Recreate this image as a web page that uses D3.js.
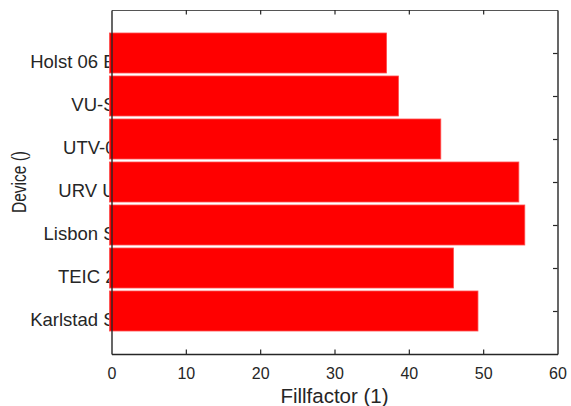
<!DOCTYPE html>
<html>
<head>
<meta charset="utf-8">
<script src="https://cdn.jsdelivr.net/npm/d3@7"></script>
<style>
  html, body { margin: 0; padding: 0; background: #fff; }
  svg { display: block; font-family: "Liberation Sans", Arial, sans-serif; }
</style>
</head>
<body>
<svg id="chart" width="571" height="406"></svg>
<script>
// Device names (bottom to top) and their fill factors
const devices = ["Karlstad S", "TEIC 2", "Lisbon S", "URV U", "UTV-0", "VU-S", "Holst 06 E"];
const fillfactor = [49.3, 46.0, 55.6, 54.8, 44.3, 38.6, 37.0];
const xTicks = [0, 10, 20, 30, 40, 50, 60];
const yTicks = [1, 2, 3, 4, 5, 6, 7];

const svg = d3.select("#chart");
const W = 571, H = 406;
const m = { left: 111.5, right: 13.5, top: 10, bottom: 52 };
const ink = "#262626";

const x = d3.scaleLinear().domain([0, 60]).range([m.left, W - m.right]);
const y = d3.scaleLinear().domain([0, 8]).range([H - m.bottom, m.top]);
const barH = (y(0) - y(1)) * 0.93;

// category labels sit behind the bars
svg.append("g").selectAll("text")
  .data(devices)
  .join("text")
  .attr("x", x(0) + 4)
  .attr("y", (d, i) => y(yTicks[i]) + 15)
  .attr("text-anchor", "end")
  .attr("font-size", 18.5)
  .attr("fill", ink)
  .text(d => d);

// bars
svg.append("g").selectAll("rect")
  .data(fillfactor)
  .join("rect")
  .attr("x", x(0) - 2)
  .attr("y", (d, i) => y(yTicks[i]) - barH / 2)
  .attr("width", d => x(d) - x(0) + 2)
  .attr("height", barH)
  .attr("fill", "#ff0000")
  .attr("stroke", "#ff4d4d")
  .attr("stroke-width", 0.8);

// axes: ticks point inward on all four sides
const tk = 4.5;
const axBottom = svg.append("g").attr("transform", `translate(0,${y(0)})`)
  .call(d3.axisBottom(x).tickValues(xTicks).tickSizeInner(-tk).tickSizeOuter(0).tickPadding(14));
const axTop = svg.append("g").attr("transform", `translate(0,${y(8)})`)
  .call(d3.axisTop(x).tickValues(xTicks).tickSizeInner(-tk).tickSizeOuter(0).tickFormat(""));
const axLeft = svg.append("g").attr("transform", `translate(${x(0)},0)`)
  .call(d3.axisLeft(y).tickValues(yTicks).tickSizeInner(0).tickSizeOuter(0).tickFormat(""));
const axRight = svg.append("g").attr("transform", `translate(${x(60)},0)`)
  .call(d3.axisRight(y).tickValues(yTicks).tickSizeInner(-tk).tickSizeOuter(0).tickFormat(""));

[axBottom, axTop, axLeft, axRight].forEach(g => {
  g.select(".domain").attr("stroke", ink).attr("stroke-width", 1.4);
  g.selectAll(".tick line").attr("stroke", ink).attr("stroke-width", 1.2);
});
axBottom.selectAll(".tick line").filter(d => d === 0 || d === 60).remove();
axTop.selectAll(".tick line").filter(d => d === 0 || d === 60).remove();
axTop.select(".domain").attr("stroke", "#555").attr("stroke-width", 1);
axBottom.selectAll(".tick text")
  .attr("font-size", 16)
  .attr("fill", ink)
  .attr("font-family", "Liberation Sans, Arial, sans-serif");

// axis titles
svg.append("text")
  .attr("x", (x(0) + x(60)) / 2)
  .attr("y", 402.5)
  .attr("text-anchor", "middle")
  .attr("font-size", 20.5)
  .attr("fill", ink)
  .text("Fillfactor (1)");

svg.append("text")
  .attr("transform", `translate(26,${(y(0) + y(8)) / 2}) rotate(-90)`)
  .attr("text-anchor", "middle")
  .attr("font-size", 20.5)
  .attr("fill", ink)
  .attr("textLength", 62)
  .attr("lengthAdjust", "spacingAndGlyphs")
  .text("Device ()");
</script>
</body>
</html>
